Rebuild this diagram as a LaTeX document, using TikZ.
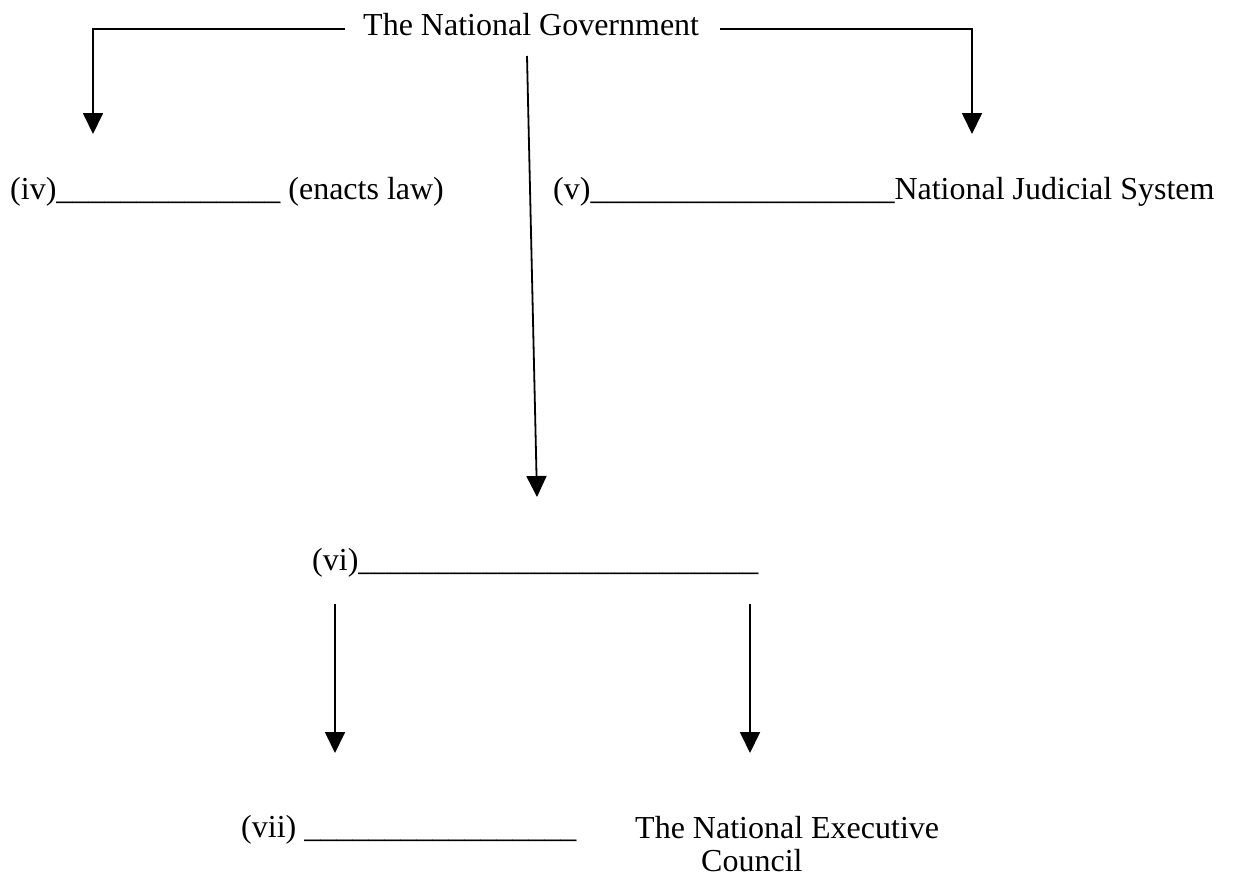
\documentclass[tikz,border=0pt]{standalone}
\usepackage{fontspec}
\setmainfont{Liberation Serif}
\usetikzlibrary{arrows.meta}
\begin{document}
\begin{tikzpicture}[x=1pt,y=-1pt,
  lbl/.style={anchor=base west,inner sep=0pt,font=\fontsize{32}{34}\selectfont},
  conn/.style={line width=1.8pt,-{Triangle[width=20pt,length=21pt]}}]
\useasboundingbox (0,0) rectangle (1235,876);
\node[lbl] (gov) at (363,35) {The National Government};
\node[lbl] (iv) at (10,199) {(iv)\_\_\_\_\_\_\_\_\_\_\_\_\_\_\ (enacts law)};
\node[lbl] (v) at (553,199) {(v)\_\_\_\_\_\_\_\_\_\_\_\_\_\_\_\_\_\_\_National Judicial System};
\node[lbl] (vi) at (312,570) {(vi)\_\_\_\_\_\_\_\_\_\_\_\_\_\_\_\_\_\_\_\_\_\_\_\_\_};
\node[lbl] (vii) at (241,837) {(vii) \_\_\_\_\_\_\_\_\_\_\_\_\_\_\_\_\_};
\node[lbl,align=left,font=\fontsize{32}{33}\selectfont] (nec) at (635,871) {The National Executive\\\hspace*{66pt}Council};
\coordinate (gl) at (345,29);
\coordinate (gr) at (720,29);
\coordinate (tl) at (93,134);
\coordinate (tr) at (972,134);
\coordinate (ms) at (527,56);
\coordinate (mt) at (537,497);
\coordinate (ls) at (335,604);
\coordinate (lt) at (335,753);
\coordinate (rs) at (750,604);
\coordinate (rt) at (750,753);
\draw[conn] (gl) -| (tl);
\draw[conn] (gr) -| (tr);
\draw[conn] (ms) -- (mt);
\draw[conn] (ls) -- (lt);
\draw[conn] (rs) -- (rt);
\end{tikzpicture}
\end{document}
